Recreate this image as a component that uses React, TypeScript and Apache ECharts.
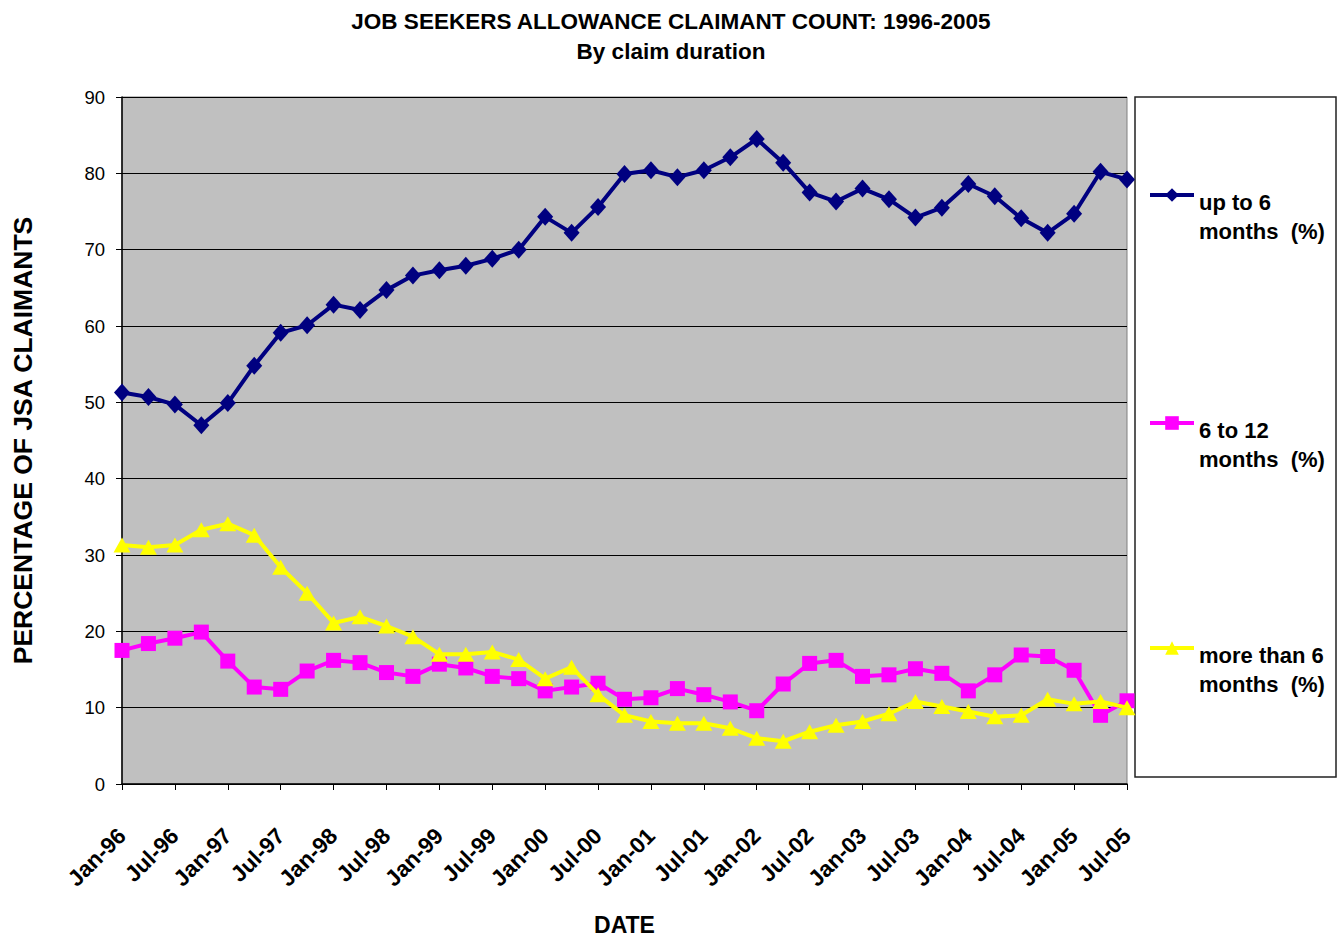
import React, { useEffect, useRef } from "react";
import * as echarts from "echarts";

const categories = [
  "Jan-96", "Apr-96", "Jul-96", "Oct-96",
  "Jan-97", "Apr-97", "Jul-97", "Oct-97",
  "Jan-98", "Apr-98", "Jul-98", "Oct-98",
  "Jan-99", "Apr-99", "Jul-99", "Oct-99",
  "Jan-00", "Apr-00", "Jul-00", "Oct-00",
  "Jan-01", "Apr-01", "Jul-01", "Oct-01",
  "Jan-02", "Apr-02", "Jul-02", "Oct-02",
  "Jan-03", "Apr-03", "Jul-03", "Oct-03",
  "Jan-04", "Apr-04", "Jul-04", "Oct-04",
  "Jan-05", "Apr-05", "Jul-05",
];

const upTo6 = [
  51.3, 50.7, 49.7, 47.0, 49.9, 54.8, 59.1, 60.1, 62.8, 62.1,
  64.7, 66.6, 67.3, 67.9, 68.8, 70.0, 74.3, 72.2, 75.6, 79.9,
  80.4, 79.5, 80.4, 82.1, 84.5, 81.4, 77.5, 76.3, 78.0, 76.6,
  74.2, 75.5, 78.6, 77.0, 74.1, 72.2, 74.7, 80.2, 79.2,
];

const sixTo12 = [
  17.5, 18.4, 19.1, 19.9, 16.1, 12.7, 12.4, 14.8, 16.2, 15.9,
  14.6, 14.1, 15.7, 15.2, 14.1, 13.8, 12.2, 12.7, 13.2, 11.1,
  11.3, 12.5, 11.7, 10.75, 9.6, 13.1, 15.8, 16.2, 14.1, 14.3,
  15.1, 14.5, 12.2, 14.3, 16.9, 16.7, 14.9, 9.0, 10.9,
];

const moreThan6 = [
  31.3, 31.0, 31.3, 33.3, 34.1, 32.6, 28.4, 25.0, 21.1, 21.9,
  20.7, 19.3, 17.0, 17.0, 17.3, 16.3, 13.8, 15.3, 11.7, 9.0,
  8.2, 7.95, 7.95, 7.3, 6.0, 5.6, 6.85, 7.7, 8.2, 9.2,
  10.8, 10.15, 9.5, 8.8, 9.0, 11.1, 10.5, 10.8, 10.0,
];

const seriesNames = ["up to 6 months  (%)", "6 to 12 months  (%)", "more than 6 months  (%)"];
const legendLine1 = ["up to 6", "6 to 12", "more than 6"];
const legendLine2 = ["months  (%)", "months  (%)", "months  (%)"];

const titleText = "JOB SEEKERS ALLOWANCE CLAIMANT COUNT: 1996-2005";
const subtitleText = "By claim duration";
const xAxisTitle = "DATE";
const yAxisTitle = "PERCENTAGE OF JSA CLAIMANTS";

const SANS = '"Liberation Sans", Arial, sans-serif';

export default function App() {
  const ref = useRef<HTMLDivElement>(null);

  useEffect(() => {
    if (!ref.current) return;
    const chart = echarts.init(ref.current, null, { renderer: "svg" });

    const colors = ["#000080", "#FF00FF", "#FFFF00"];
    const symbols = ["diamond", "rect", "triangle"];
    const sizes: any[] = [[16, 18], 15, [17, 15]];
    const datas = [upTo6, sixTo12, moreThan6];
    const iconCenters = [195, 423, 648];

    const legends = seriesNames.map((name, i) => ({
      data: [name],
      orient: "vertical",
      left: 1148,
      top: iconCenters[i] - 34,
      padding: 0,
      itemWidth: 44,
      itemHeight: 17,
      selectedMode: false,
      lineStyle: { width: 4 },
      formatter: () => "{s| }\n{t|" + legendLine1[i] + "}\n{t|" + legendLine2[i] + "}",
      textStyle: {
        fontFamily: SANS,
        fontWeight: "bold",
        fontSize: 22,
        color: "#000",
        rich: {
          s: { fontSize: 10, lineHeight: 44 },
          t: { fontFamily: SANS, fontWeight: "bold", fontSize: 22, color: "#000", lineHeight: 29 },
        },
      },
    }));

    chart.setOption({
      animation: false,
      backgroundColor: "#ffffff",
      title: {
        text: titleText,
        subtext: subtitleText,
        left: 666,
        textAlign: "center",
        top: 5,
        itemGap: 7,
        textStyle: { fontFamily: SANS, fontWeight: "bold", fontSize: 22.5, color: "#000" },
        subtextStyle: { fontFamily: SANS, fontWeight: "bold", fontSize: 22.5, color: "#000" },
      },
      legend: legends,
      grid: {
        left: 122,
        top: 97,
        width: 1005,
        height: 687,
        containLabel: false,
        outerBoundsMode: "none",
        show: true,
        backgroundColor: "#C0C0C0",
        borderColor: "#808080",
        borderWidth: 1,
      },
      xAxis: {
        type: "category",
        data: categories,
        boundaryGap: false,
        name: xAxisTitle,
        nameLocation: "middle",
        nameGap: 129,
        nameTextStyle: { fontFamily: SANS, fontWeight: "bold", fontSize: 23, color: "#000" },
        axisLine: { lineStyle: { color: "#000", width: 1.5 } },
        axisTick: { show: true, interval: 1, length: 6, lineStyle: { color: "#000" } },
        axisLabel: {
          interval: 1,
          rotate: 45,
          margin: 48,
          fontFamily: SANS,
          fontWeight: "bold",
          fontSize: 22.5,
          color: "#000",
        },
        splitLine: { show: false },
      },
      yAxis: {
        type: "value",
        min: 0,
        max: 90,
        interval: 10,
        name: yAxisTitle,
        nameLocation: "middle",
        nameGap: 86,
        nameTextStyle: { fontFamily: SANS, fontWeight: "bold", fontSize: 26.5, color: "#000" },
        axisLine: { show: true, lineStyle: { color: "#000", width: 1.5 } },
        axisTick: { show: true, length: 6, lineStyle: { color: "#000" } },
        axisLabel: { margin: 17, fontFamily: SANS, fontSize: 18.5, color: "#000" },
        splitLine: { show: true, lineStyle: { color: "#000", width: 1 } },
      },
      graphic: [
        {
          type: "rect",
          shape: { x: 1135, y: 97, width: 201, height: 680 },
          style: { fill: "#fff", stroke: "#222", lineWidth: 1.5 },
          z: -1,
          silent: true,
        },
      ],
      series: seriesNames.map((name, i) => ({
        name,
        type: "line",
        data: datas[i],
        symbol: symbols[i],
        symbolSize: sizes[i],
        showSymbol: true,
        showAllSymbol: true,
        color: colors[i],
        itemStyle: { color: colors[i] },
        lineStyle: { color: colors[i], width: 4 },
        z: 2 + i,
      })),
    });

    return () => chart.dispose();
  }, []);

  return (
    <div
      ref={ref}
      style={{ position: "absolute", left: 0, top: 0, width: 1339, height: 936 }}
    />
  );
}
